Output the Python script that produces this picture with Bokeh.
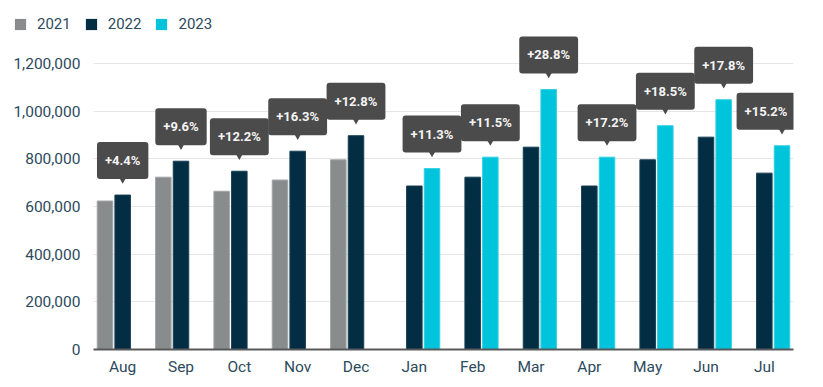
from bokeh.plotting import figure
from bokeh.layouts import column
from bokeh.models import (FactorRange, Range1d, FixedTicker, NumeralTickFormatter,
                          ColumnDataSource, Legend, LegendItem)
from bokeh.transform import dodge
from bokeh.core.properties import value
from bokeh.embed import file_html
from bokeh.resources import INLINE

# ---------------- data ----------------
months = ["Aug", "Sep", "Oct", "Nov", "Dec", "Jan", "Feb", "Mar", "Apr", "May", "Jun", "Jul"]
months_2021 = ["Aug", "Sep", "Oct", "Nov", "Dec"]
values_2021 = [623000, 723000, 664000, 711000, 796000]
months_2022 = months
values_2022 = [648000, 790000, 748000, 832000, 897000, 686000, 723000, 849000, 686000, 796000, 891000, 740000]
months_2023 = ["Jan", "Feb", "Mar", "Apr", "May", "Jun", "Jul"]
values_2023 = [759000, 807000, 1091000, 807000, 939000, 1048000, 855000]
changes = ["+4.4%", "+9.6%", "+12.2%", "+16.3%", "+12.8%", "+11.3%", "+11.5%",
           "+28.8%", "+17.2%", "+18.5%", "+17.8%", "+15.2%"]
series = ["2021", "2022", "2023"]
y_ticks = [0, 200000, 400000, 600000, 800000, 1000000, 1200000]

# ---------------- style ----------------
COLORS = {"2021": "#898c8d", "2022": "#032d42", "2023": "#00c4dc"}
EDGES = {"2021": "#a3a5a6", "2022": "#1a4155", "2023": "#33d0e3"}
TXT = "#2d4a5c"
BOX = "#4b4b4b"
FONT = "Roboto"

W = 823
H_LEG = 34
H = 387 - H_LEG
B_LEFT, B_RIGHT, B_TOP, B_BOTTOM = 93, 30, 0, 38
frame_h = H - B_TOP - B_BOTTOM
y_end = 1200000 * frame_h / 286.0
upp = y_end / frame_h  # data units per pixel

# ---------------- legend strip ----------------
pl = figure(width=W, height=H_LEG, output_backend="svg", toolbar_location=None,
            x_range=Range1d(0, 1), y_range=Range1d(0, 1),
            min_border=0, x_axis_type=None, y_axis_type=None)
pl.frame_align = False
pl.outline_line_color = None
pl.grid.visible = False
# hidden swatch renderers: only their legend entries are shown
dummies = [pl.vbar(x=[0.5], top=[0], width=0.1, fill_color=COLORS[s], line_color=None,
                   visible=False)
           for s in series]
legend = Legend(items=[LegendItem(label=s, renderers=[r]) for s, r in zip(series, dummies)],
                location=(13, 1), orientation="horizontal",
                padding=0, margin=0, border_line_color=None, background_fill_alpha=0,
                inactive_fill_alpha=0,
                glyph_width=14, glyph_height=14, label_standoff=10, spacing=13,
                label_height=14, label_text_font=FONT, label_text_font_size="15px",
                label_text_color=TXT, label_text_baseline="middle")
pl.add_layout(legend)

# ---------------- main chart ----------------
p = figure(x_range=FactorRange(factors=months, range_padding=0),
           y_range=Range1d(0, y_end),
           width=W, height=H, output_backend="svg", toolbar_location=None,
           min_border_left=B_LEFT, min_border_right=B_RIGHT,
           min_border_top=B_TOP, min_border_bottom=B_BOTTOM)
p.frame_align = False
p.outline_line_color = None

OFF = 0.303
BW = 0.266

for s, ms, vs, off in [("2021", months_2021, values_2021, -OFF),
                       ("2022", months_2022, values_2022, 0),
                       ("2023", months_2023, values_2023, OFF)]:
    src = ColumnDataSource(dict(month=ms, top=vs))
    p.vbar(x=dodge("month", off, range=p.x_range), top="top", width=BW, source=src,
           fill_color=COLORS[s], line_color=EDGES[s], line_width=1)

# ---------------- callouts ----------------
n_old = len(months_2021)
first_tops = [max(a, b) for a, b in zip(values_2021, values_2022[:n_old])]
second_tops = [max(a, b) for a, b in zip(values_2022[n_old:], values_2023)]

def callouts(ms, tops, labels, off, last_shift=0):
    xo = [0] * len(ms)
    xo[-1] = last_shift
    src = ColumnDataSource(dict(
        month=ms,
        ty=[t + 34.5 * upp for t in tops],
        py=[t + 16.5 * upp for t in tops],
        label=labels, xo=xo))
    p.scatter(x=dodge("month", off, range=p.x_range), y="py", source=src,
              marker="inverted_triangle", size=9, fill_color=BOX, line_color=None)
    p.text(x=dodge("month", off, range=p.x_range), y="ty", text="label", source=src,
           x_offset="xo",
           text_font=value(FONT), text_font_style="bold", text_font_size="13px",
           text_color="#f4f4f4", text_align="center", text_baseline="middle",
           background_fill_color=BOX,
           padding=dict(left=8, right=8, top=11, bottom=11), border_radius=3)

callouts(months_2021, first_tops, changes[:n_old], 0)
callouts(months_2023, second_tops, changes[n_old:], OFF, last_shift=-16)

# ---------------- axes ----------------
p.xgrid.grid_line_color = None
p.ygrid.grid_line_color = "#e6e6e6"
p.ygrid.grid_line_width = 1

p.yaxis.ticker = FixedTicker(ticks=y_ticks)
p.yaxis.formatter = NumeralTickFormatter(format="0,0")
p.yaxis.axis_line_color = None
p.yaxis.major_tick_line_color = None
p.yaxis.major_tick_out = 0
p.yaxis.minor_tick_line_color = None
p.yaxis.major_label_standoff = 13
p.yaxis.major_label_text_font = FONT
p.yaxis.major_label_text_font_size = "15.5px"
p.yaxis.major_label_text_color = TXT

p.xaxis.axis_line_color = "#58595b"
p.xaxis.axis_line_width = 2
p.xaxis.major_tick_line_color = None
p.xaxis.major_tick_out = 0
p.xaxis.minor_tick_line_color = None
p.xaxis.major_label_standoff = 8
p.xaxis.major_label_text_font = FONT
p.xaxis.major_label_text_font_size = "15.5px"
p.xaxis.major_label_text_color = TXT

layout = column(pl, p, spacing=0)
open("out.html", "w").write(file_html(layout, INLINE))
